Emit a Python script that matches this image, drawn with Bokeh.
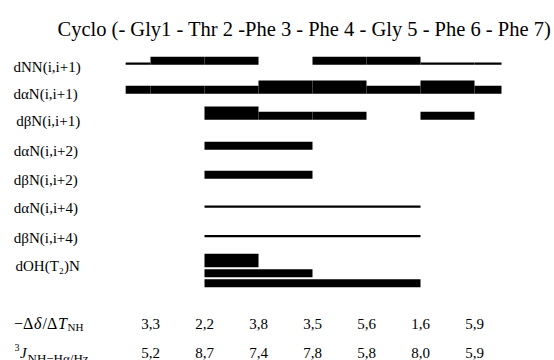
from bokeh.plotting import figure
from bokeh.models import Range1d, ColumnDataSource
from bokeh.core.properties import value
from bokeh.embed import file_html
from bokeh.resources import INLINE

# ---------------- data ----------------
residues = ["Gly1", "Thr2", "Phe3", "Phe4", "Gly5", "Phe6", "Phe7"]
title_text = "Cyclo (- Gly1 - Thr 2 -Phe 3 - Phe 4 - Gly 5 - Phe 6 - Phe 7)"

row_labels = ["dNN(i,i+1)", "d\u03b1N(i,i+1)", "d\u03b2N(i,i+1)",
              "d\u03b1N(i,i+2)", "d\u03b2N(i,i+2)", "d\u03b1N(i,i+4)",
              "d\u03b2N(i,i+4)", "dOH(T\u2082)N"]

# sequential NOE intensity for connections 1-2, 2-3, 3-4, 4-5, 5-6, 6-7, 7-1
# (0 none, 1 weak, 2 medium, 3 strong)
dNN_i1 = [2, 2, 0, 2, 2, 1, 1]
daN_i1 = [2, 2, 3, 3, 2, 3, 2]
dbN_i1 = [0, 3, 2, 2, 0, 2, 0]

# medium-range NOEs: (from residue, to residue, intensity)
daN_i2 = [(2, 4, 2)]
dbN_i2 = [(2, 4, 2)]
daN_i4 = [(2, 6, 1)]
dbN_i4 = [(2, 6, 1)]
dOH_T2N = [(2, 3, 3), (2, 4, 2), (2, 6, 2)]

# -Δδ/ΔT_NH (ppb/K) and 3J(NH-Hα) (Hz) per residue
temp_coeff = [3.3, 2.2, 3.8, 3.5, 5.6, 1.6, 5.9]
j_coupling = [5.2, 8.7, 7.4, 7.8, 5.8, 8.0, 5.9]

# ---------------- layout ----------------
W, H = 554, 360
RES1_PX, STEP_PX = 150.0, 54.0


def px2r(px):
    return 1.0 + (px - RES1_PX) / STEP_PX


THICK = {1: 2.3, 2: 8.0, 3: 13.4}
SEQ_BASE = [64.3, 93.3, 119.3]
MID_BASE = [149.3, 178.3, 207.3, 236.7]
OH_BASE = [266.7, 276.7, 286.7]
WRAP_L, WRAP_R = 0.46, 0.5  # stub lengths of the 7->1 cyclic connection

LABEL_X = [13, 13, 15.7, 13.3, 13.3, 13.3, 13.3, 15]
LABEL_BASE = [66, 93.5, 120.5, 150.5, 179.5, 207, 237, 265]
ROW_TC, ROW_J = 323, 352

p = figure(width=W, height=H, output_backend="svg", toolbar_location=None,
           x_range=Range1d(px2r(0), px2r(W)), y_range=Range1d(H, 0),
           min_border=0, x_axis_location=None, y_axis_location=None,
           title=None)
p.outline_line_color = None
p.grid.visible = False
p.background_fill_color = "white"
p.border_fill_color = "white"

# ---------------- bars ----------------
L, R, T, B = [], [], [], []


def add_bar(a, b, base, s):
    L.append(a)
    R.append(b)
    B.append(base)
    T.append(base - THICK[s])


n = len(residues)
for base, row in zip(SEQ_BASE, [dNN_i1, daN_i1, dbN_i1]):
    for k, s in enumerate(row):
        if s == 0:
            continue
        a, b = k + 1, k + 2
        if b > n:
            add_bar(n, n + WRAP_R, base, s)
            add_bar(1 - WRAP_L, 1, base, s)
        else:
            add_bar(a, b, base, s)

for base, noes in zip(MID_BASE, [daN_i2, dbN_i2, daN_i4, dbN_i4]):
    for a, b, s in noes:
        add_bar(a, b, base, s)

for base, (a, b, s) in zip(OH_BASE, dOH_T2N):
    add_bar(a, b, base, s)

p.quad(left="l", right="r", top="t", bottom="b",
       source=ColumnDataSource(dict(l=L, r=R, t=T, b=B)),
       fill_color="black", line_color=None)

# ---------------- texts ----------------
FONT = value("Liberation Serif")


def text(xs, ys, txt, size, style="normal", align="left"):
    p.text(x=xs, y=ys, text=txt, text_font=FONT,
           text_font_size=value(f"{size}px"), text_font_style=style,
           text_align=align, text_baseline="alphabetic", text_color="black")


def run(pieces):
    # pieces: (text, italic, font size px, x px, baseline px)
    for t, italic, size, x, y in pieces:
        text([px2r(x)], [y], [t], size, "italic" if italic else "normal")


# title
text([px2r(57)], [28], [title_text], 20.5)

# row labels
text([px2r(x) for x in LABEL_X], LABEL_BASE, row_labels, 15)

# -Δδ/ΔT_NH label
run([("\u2212\u0394", False, 16, 13.5, ROW_TC),
     ("\u03b4", True, 16, 33.5, ROW_TC),
     ("/\u0394", False, 16, 42, ROW_TC),
     ("T", True, 16, 57.5, ROW_TC),
     ("NH", False, 11, 67, ROW_TC + 3)])

# 3J NH-Hα/Hz label
run([("3", False, 10, 14, ROW_J - 5),
     ("J", True, 15, 19.5, ROW_J),
     ("NH\u2212H\u03b1/Hz", False, 13, 27, ROW_J + 6)])

# value rows
xs = list(range(1, n + 1))
text(xs, [ROW_TC] * n, [f"{v:.1f}".replace(".", ",") for v in temp_coeff],
     15, align="center")
text(xs, [ROW_J] * n, [f"{v:.1f}".replace(".", ",") for v in j_coupling],
     15, align="center")

open("out.html", "w").write(file_html(p, INLINE))
